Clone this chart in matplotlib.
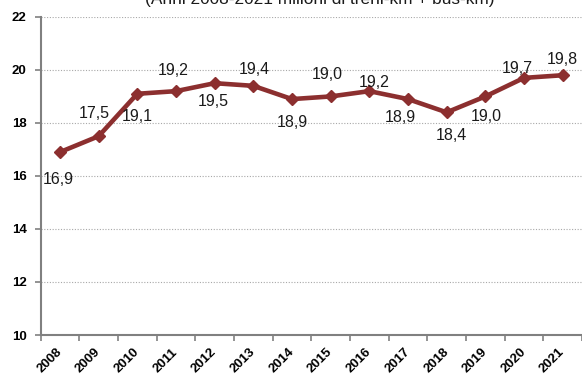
import matplotlib.pyplot as plt
import numpy as np

plt.rcParams['font.family'] = ['Liberation Sans', 'DejaVu Sans']

years = ['2008', '2009', '2010', '2011', '2012', '2013', '2014',
         '2015', '2016', '2017', '2018', '2019', '2020', '2021']
values = [16.9, 17.5, 19.1, 19.2, 19.5, 19.4, 18.9,
          19.0, 19.2, 18.9, 18.4, 19.0, 19.7, 19.8]
# where each value label sits relative to its point (pixels)
label_offsets = [(-2, -27), (-4, 23), (0, -23), (-3, 21), (-1, -18), (1, 16),
                 (0, -23), (-3, 22), (5, 9), (-8, -18), (5, -23), (1, -20),
                 (-7, 9), (0, 16)]

line_color = '#8c2f2f'

fig = plt.figure(figsize=(5.82, 3.76), dpi=100)
ax = fig.add_axes([0.0698, 0.109, 0.9302, 0.846])

x = np.arange(len(years))
ax.plot(x, values, color=line_color, lw=3.3, marker='D', ms=6.5,
        markerfacecolor=line_color, markeredgecolor=line_color, zorder=3)

for xi, v, (dx, dy) in zip(x, values, label_offsets):
    ax.annotate(f'{v:.1f}'.replace('.', ','), (xi, v), xytext=(dx, dy),
                textcoords='offset pixels', ha='center', va='center',
                fontsize=11.5, color='#1a1a1a')

ax.set_xlim(-0.5, len(years) - 0.5)
ax.set_ylim(10, 22)
ax.set_yticks(range(10, 23, 2))
ax.set_yticklabels([str(t) for t in range(10, 23, 2)],
                   fontsize=9.5, fontweight='bold')
ax.yaxis.grid(True, linestyle=(0, (1, 1.5)), color='#a8a8a8', lw=0.8)
ax.set_axisbelow(True)

# year labels at category centres, tick marks at category edges
ax.set_xticks(x)
ax.set_xticklabels(years, rotation=45, fontsize=9.5, fontweight='bold',
                   ha='right', va='center', rotation_mode='anchor')
ax.tick_params(axis='x', which='major', length=0, pad=11)
ax.set_xticks(np.arange(-0.5, len(years)), minor=True)
ax.tick_params(axis='x', which='minor', length=4, width=1.2, color='#808080')
ax.tick_params(axis='y', length=4, width=1.2, color='#808080', pad=6)

for side in ['top', 'right']:
    ax.spines[side].set_visible(False)
for side in ['left', 'bottom']:
    ax.spines[side].set_color('#808080')
    ax.spines[side].set_linewidth(1.5)

fig.text(0.55, 1 - 4 / 376, '(Anni 2008-2021 milioni di treni-km + bus-km)',
         ha='center', va='baseline', fontsize=12.4, color='#1a1a1a')

fig.savefig('out.png', dpi=100)
